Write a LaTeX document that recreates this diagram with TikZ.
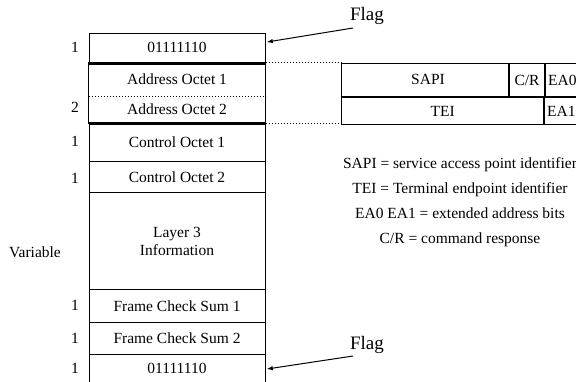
\documentclass[tikz,border=0pt]{standalone}
\usepackage{fontspec}
\setmainfont{Liberation Serif}
\usetikzlibrary{calc}

\begin{document}
\begin{tikzpicture}[x=1pt, y=-1pt, >=latex,
    field/.style={draw, line width=1pt, minimum width=176pt, inner sep=0pt, anchor=north},
    cell/.style={draw, line width=1pt, inner sep=0pt, anchor=north west},
    count/.style={inner sep=0pt},
    flaglabel/.style={inner sep=0pt, font=\fontsize{19}{22}\selectfont}]
    \useasboundingbox (0,0) rectangle (576,381);
    \clip (0,0) rectangle (576,381);
    \fontsize{15.5}{18}\selectfont

    % frame fields
    \node[field, minimum height=29.8pt] (flagtop) at (177,32.5) {01111110};
    \node[field, draw=none, minimum height=33.4pt] (addrone) at (177,62.3) {Address Octet 1};
    \node[field, draw=none, minimum height=26.8pt] (addrtwo) at (177,95.7) {Address Octet 2};
    \node[field, minimum height=38.2pt] (ctrlone) at (177,122.5) {Control Octet 1};
    \node[field, minimum height=31.6pt] (ctrltwo) at (177,160.7) {Control Octet 2};
    \node[field, minimum height=97pt, align=center, font=\fontsize{15.5}{17.6}\selectfont] (layerthree) at (177,192.3) {Layer 3\\Information};
    \node[field, minimum height=32.4pt] (fcsone) at (177,289.3) {Frame Check Sum 1};
    \node[field, minimum height=32.6pt] (fcstwo) at (177,321.7) {Frame Check Sum 2};
    \node[field, minimum height=28pt] (flagbot) at (177,354.3) {01111110};

    \draw[line width=1pt] (addrone.north west) rectangle (addrtwo.south east);
    \draw[dotted, line width=1pt] (addrone.south west) -- (addrone.south east);
    \draw[line width=2.8pt] (flagtop.south west) -- (flagtop.south east);
    \draw[line width=2.8pt] (addrtwo.south west) -- (addrtwo.south east);

    % octet counts
    \node[count] (nflagtop) at (75,47.5) {1};
    \node[count] (naddr) at (75,107) {2};
    \node[count] (nctrlone) at (75,141.6) {1};
    \node[count] (nctrltwo) at (75,178) {1};
    \node[count] (nlayer) at (35,252) {Variable};
    \node[count] (nfcsone) at (75,305.5) {1};
    \node[count] (nfcstwo) at (75,338) {1};
    \node[count] (nflagbot) at (75,368) {1};

    % address octets
    \node[cell, minimum width=166.7pt, minimum height=32.4pt] (sapi) at (341,63.3) {};
    \node at (428,79.5) {SAPI};
    \node[cell, minimum width=35.6pt, minimum height=32.4pt] (cr) at (sapi.north east) {C/R};
    \node[cell, minimum width=33pt, minimum height=32.4pt] (eazero) at (cr.north east) {EA0};
    \node[cell, minimum width=202.3pt, minimum height=27.6pt] (tei) at (sapi.south west) {TEI};
    \node[cell, minimum width=33pt, minimum height=27.6pt] (eaone) at (tei.north east) {EA1};

    \draw[dotted, line width=1pt] (addrone.north east) -- (addrone.north east -| sapi.west);
    \draw[dotted, line width=1pt] (addrtwo.south east) -- (addrtwo.south east -| tei.west);

    % legend
    \node[align=center, font=\fontsize{15.5}{25}\selectfont] (legend) at (460,202.5)
        {SAPI = service access point identifier\\
         TEI = Terminal endpoint identifier\\
         EA0 EA1 = extended address bits\\
         C/R = command response};

    % flags
    \node[flaglabel] (lflagtop) at (367,16) {Flag};
    \node[flaglabel] (lflagbot) at (367,345) {Flag};
    \coordinate (tipflagtop) at (267,42);
    \coordinate (tipflagbot) at (267,369);
    \draw[->, line width=1pt] (353,28) -- (tipflagtop);
    \draw[->, line width=1pt] (353,356) -- (tipflagbot);
\end{tikzpicture}
\end{document}
